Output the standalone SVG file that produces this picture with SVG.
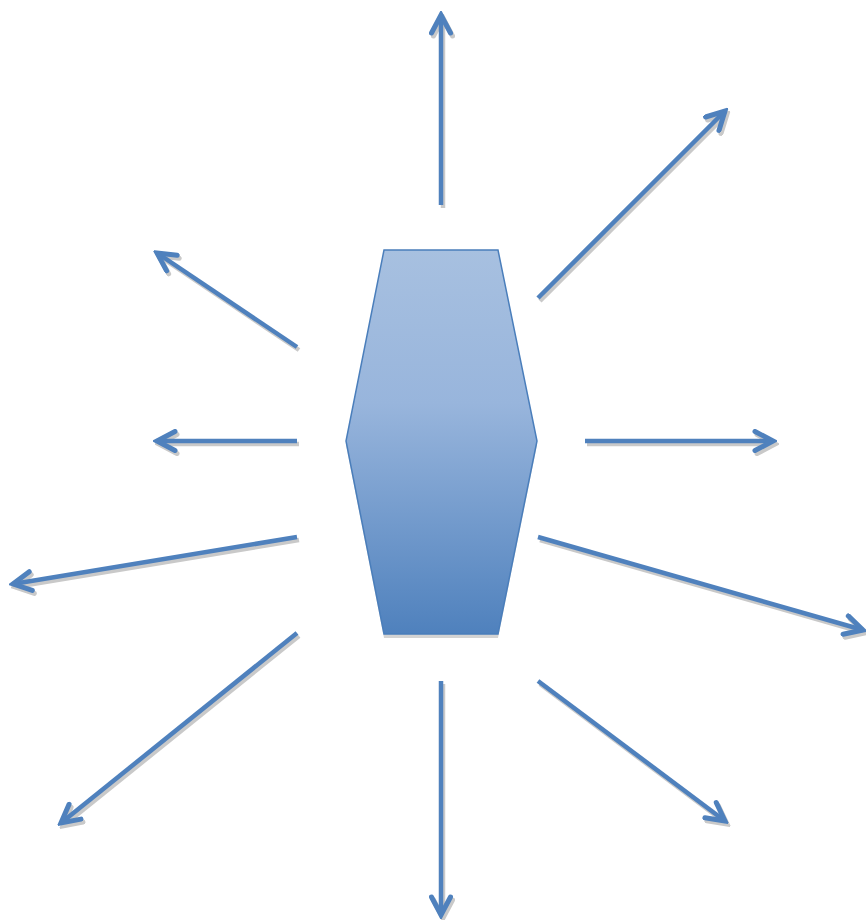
<svg xmlns="http://www.w3.org/2000/svg" width="866" height="920" viewBox="0 0 866 920">
<defs>
<style>
.ar{stroke:#4f81bd;stroke-width:4.5;fill:none;marker-end:url(#mb)}
.sh{stroke:#c9c9c9;stroke-width:4.5;fill:none;marker-end:url(#mg)}
</style>
<marker id="mb" markerUnits="userSpaceOnUse" viewBox="-22 -12 26 24" refX="0" refY="0" markerWidth="26" markerHeight="24" orient="auto">
<path d="M-18,-9.5 L0,0 L-18,9.5" fill="none" stroke="#4f81bd" stroke-width="5" stroke-linecap="round" stroke-linejoin="miter"/>
</marker>
<marker id="mg" markerUnits="userSpaceOnUse" viewBox="-22 -12 26 24" refX="0" refY="0" markerWidth="26" markerHeight="24" orient="auto">
<path d="M-18,-9.5 L0,0 L-18,9.5" fill="none" stroke="#c9c9c9" stroke-width="5" stroke-linecap="round" stroke-linejoin="miter"/>
</marker>
<linearGradient id="g" x1="0" y1="0" x2="0" y2="1">
<stop offset="0" stop-color="#a7c0e0"/>
<stop offset="0.4" stop-color="#98b5dc"/>
<stop offset="1" stop-color="#4f81bd"/>
</linearGradient>
</defs>
<rect width="866" height="920" fill="#ffffff"/>
<g id="connectors">
<g transform="translate(2,3)">
<line class="sh" x1="441" y1="205" x2="441" y2="15"/>
<line class="sh" x1="538" y1="298" x2="725" y2="111"/>
<line class="sh" x1="585" y1="441" x2="773" y2="441"/>
<line class="sh" x1="538" y1="537" x2="863" y2="630"/>
<line class="sh" x1="538" y1="681" x2="725" y2="821"/>
<line class="sh" x1="441" y1="681" x2="441" y2="915"/>
<line class="sh" x1="297" y1="633" x2="61" y2="823"/>
<line class="sh" x1="297" y1="537" x2="13" y2="584"/>
<line class="sh" x1="297" y1="441" x2="157" y2="441"/>
<line class="sh" x1="297" y1="347" x2="157" y2="253"/>
</g>
<line class="ar" x1="441" y1="205" x2="441" y2="15"/>
<line class="ar" x1="538" y1="298" x2="725" y2="111"/>
<line class="ar" x1="585" y1="441" x2="773" y2="441"/>
<line class="ar" x1="538" y1="537" x2="863" y2="630"/>
<line class="ar" x1="538" y1="681" x2="725" y2="821"/>
<line class="ar" x1="441" y1="681" x2="441" y2="915"/>
<line class="ar" x1="297" y1="633" x2="61" y2="823"/>
<line class="ar" x1="297" y1="537" x2="13" y2="584"/>
<line class="ar" x1="297" y1="441" x2="157" y2="441"/>
<line class="ar" x1="297" y1="347" x2="157" y2="253"/>
</g>
<g id="hexagon">
<polygon points="384,254 498,254 537,445 498,638 384,638 346,445" fill="#d3d3d3"/>
<polygon points="384,250 498,250 537,441 498,634 384,634 346,441" fill="url(#g)" stroke="#4a7ebb" stroke-width="1.5"/>
</g>
</svg>
